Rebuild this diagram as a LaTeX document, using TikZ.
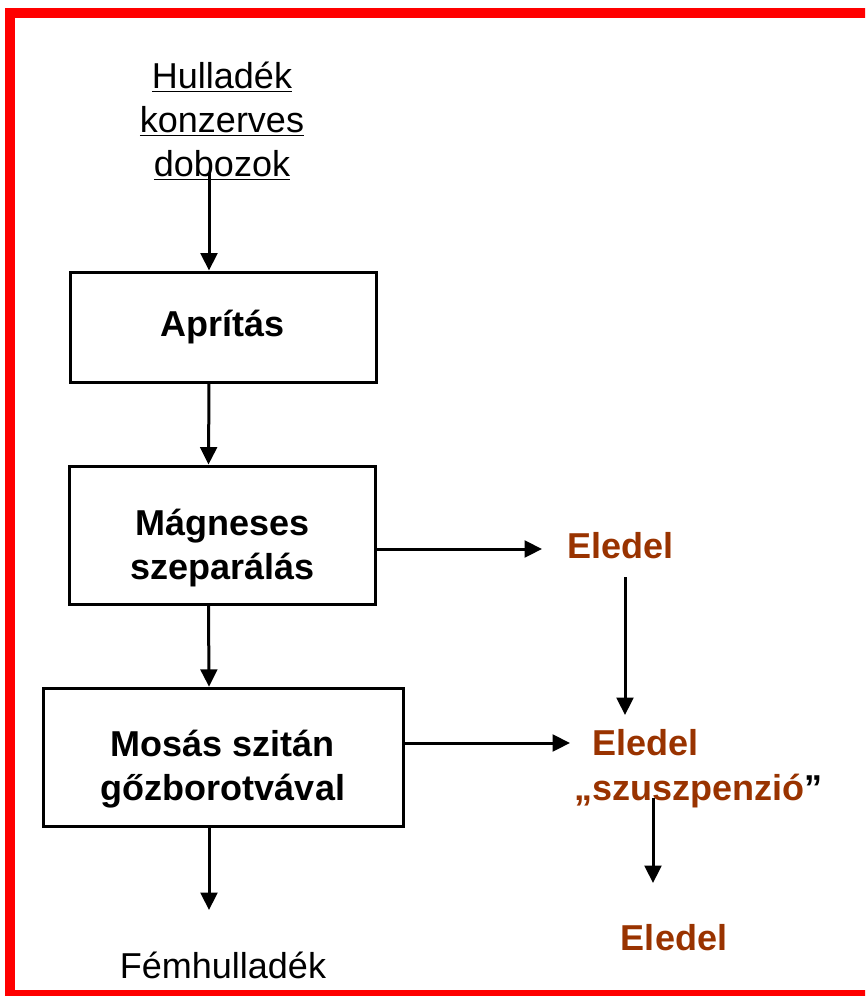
\documentclass[tikz,border=0pt]{standalone}
\usepackage{fontspec}
\setmainfont{Liberation Sans}
\usetikzlibrary{arrows.meta}
\definecolor{eledelbrown}{RGB}{153,51,0}

\begin{document}
\begin{tikzpicture}[x=0.75pt, y=-0.75pt, line width=2.25pt,
  >={Triangle[length=13pt,width=12.5pt]},
  txt/.style={font=\fontsize{27}{33}\selectfont, align=center, inner sep=0pt},
  boxtext/.style={txt, font=\fontsize{27}{33}\selectfont\bfseries},
  stepbox/.style={boxtext, draw, line width=2.25pt},
  food/.style={txt, font=\fontsize{27}{33}\selectfont\bfseries, text=eledelbrown}]
  \useasboundingbox (0,0) rectangle (865,996);
  \clip (0,0) rectangle (865,996);

  % Red frame
  \draw[red, line width=7.5pt] (10,13) rectangle (890,995);

  % Input
  \node[txt] (src) at (222,121)
    {\underline{Hulladék}\\\underline{konzerves}\\\underline{dobozok}};

  % Process steps
  \node[stepbox, minimum width=229.5pt, minimum height=82.5pt] (apr) at (223,327) {Aprítás};
  \node[stepbox, minimum width=230pt, minimum height=103.5pt] (magbox) at (222.5,535) {};
  \node[boxtext] (mag) at (222.5,548) {Mágneses\\szeparálás};
  \node[stepbox, minimum width=270pt, minimum height=104pt] (mosbox) at (223,757.5) {};
  \node[boxtext] (mos) at (223,769) {Mosás szitán\\gőzborotvával};

  % Products
  \node[txt, anchor=base] (fem) at (223,978) {Fémhulladék};
  \node[food, anchor=base] (e1) at (620.5,558) {Eledel};
  \node[food, anchor=base] (e2) at (645.5,755) {Eledel};
  \node[food, anchor=base] (susp) at (698.5,800) {„szuszpenzió{\color{black}”}};
  \node[food, anchor=base] (e3) at (674,950) {Eledel};

  % Main line
  \coordinate (srcout) at (209,172);
  \draw[->] (srcout) -- ([xshift=-10.5pt]apr.north);
  \draw[->] ([xshift=-10.5pt]apr.south) -- ([xshift=-10.5pt]magbox.north);
  \draw[->] ([xshift=-10.5pt]magbox.south) -- ([xshift=-10.5pt]mosbox.north);
  \coordinate (femin) at (209,910);
  \draw[->] ([xshift=-10.5pt]mosbox.south) -- (femin);

  % Side lines
  \coordinate (e1in) at (542,549);
  \draw[->] (magbox.east |- e1in) -- (e1in);
  \coordinate (e1out) at (625,577);
  \coordinate (e2top) at (625,715);
  \draw[->] (e1out) -- (e2top);
  \coordinate (e2in) at (570,743);
  \draw[->] (mosbox.east |- e2in) -- (e2in);
  \coordinate (suspout) at (653,798);
  \coordinate (e3in) at (653,883);
  \draw[->] (suspout) -- (e3in);
\end{tikzpicture}
\end{document}
